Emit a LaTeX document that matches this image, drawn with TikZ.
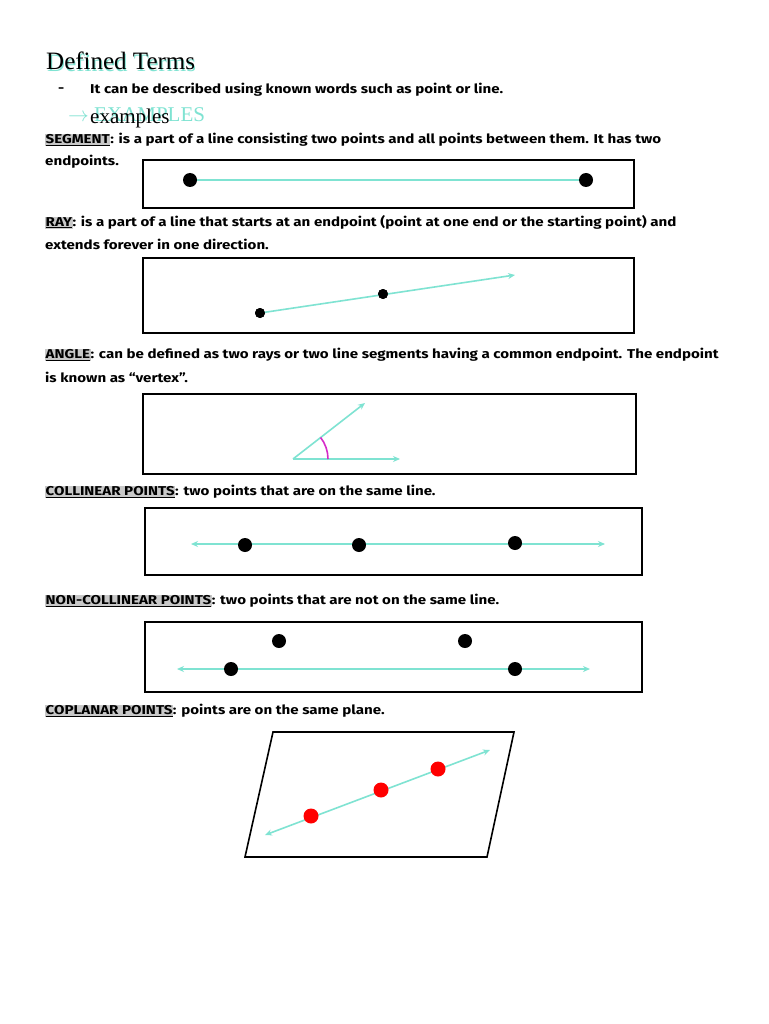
\documentclass[tikz,border=0pt]{standalone}
\usepackage{fontspec}
\setmainfont{Fira Sans}[FakeStretch=1.18]
\newfontfamily\titlefont{Liberation Serif}
\usetikzlibrary{arrows.meta}
\definecolor{aq}{HTML}{7FE3D2}
\definecolor{mag}{HTML}{D62AC8}
\definecolor{hl}{HTML}{C8C8C8}
\newcommand{\myterm}[1]{\setlength{\fboxsep}{0.5pt}\colorbox{hl}{\underline{#1}}}
\begin{document}
\begin{tikzpicture}[x=1pt,y=-1pt,
  txt/.style={anchor=west,inner sep=0pt,font=\fontsize{12.8}{14}\selectfont\bfseries},
  pbox/.style={draw=black,line width=1.2pt},
  aline/.style={draw=aq,line width=1.6pt},
  arr/.style={aline,-{Stealth[length=7pt,width=6pt]}},
  darr/.style={aline,{Stealth[length=7pt,width=6pt]}-{Stealth[length=7pt,width=6pt]}},
  dot/.style={circle,fill=black,inner sep=0pt,minimum size=14pt},
  sdot/.style={circle,fill=black,inner sep=0pt,minimum size=10pt},
  rdot/.style={circle,fill=red,inner sep=0pt,minimum size=15pt}]
\useasboundingbox (0,0) rectangle (768,1024);
\fill[white] (0,0) rectangle (768,1024);
% title
\node[anchor=west,inner sep=0pt,text=aq,font=\titlefont\fontsize{25}{28}\selectfont] (tsh) at (47,63) {Defined Terms};
\node[anchor=west,inner sep=0pt,font=\titlefont\fontsize{25}{28}\selectfont] (title) at (46,61) {Defined Terms};
\node[txt] (dash) at (58,90) {-};
\node[txt] (l1) at (90,90) {It can be described using known words such as point or line.};
\node[anchor=west,inner sep=0pt,text=aq,font=\titlefont\fontsize{21}{24}\selectfont] (exs) at (68,115) {$\rightarrow$ EXAMPLES};
\node[anchor=west,inner sep=0pt,font=\titlefont\fontsize{21}{24}\selectfont] (ex) at (90,118) {examples};
% segment
\node[txt] (t1) at (45,140) {\myterm{SEGMENT}: is a part of a line consisting two points and all points between them. It has two};
\node[txt] (t1b) at (45,162) {endpoints.};
\draw[pbox] (143,160) rectangle (634,208);
\node[dot] (s1) at (190,180) {};
\node[dot] (s2) at (586,180) {};
\draw[aline] (s1) -- (s2);
% ray
\node[txt] (t2) at (45,222) {\myterm{RAY}: is a part of a line that starts at an endpoint (point at one end or the starting point) and};
\node[txt] (t2b) at (45,244) {extends forever in one direction.};
\draw[pbox] (143,258) rectangle (634,333);
\node[sdot] (r1) at (260,313) {};
\node[sdot] (r2) at (383,294) {};
\coordinate (r3) at (515,275);
\draw[arr] (r1.center) -- (r3);
\node[sdot] at (260,313) {};
\node[sdot] at (383,294) {};
% angle
\node[txt] (t3) at (45,355) {\myterm{ANGLE}: can be defined as two rays or two line segments having a common endpoint. The endpoint};
\node[txt] (t3b) at (45,377) {is known as “vertex”.};
\draw[pbox] (143,394) rectangle (636,474);
\coordinate (v) at (293,459);
\coordinate (a1) at (365,403);
\coordinate (a2) at (400,459);
\draw[arr] (v) -- (a1);
\draw[arr] (v) -- (a2);
\draw[mag,line width=1.6pt] (v) ++(0:35) arc[start angle=0,end angle=38,radius=35,y radius=-35];
% collinear
\node[txt] (t4) at (45,492) {\myterm{COLLINEAR POINTS}: two points that are on the same line.};
\draw[pbox] (145,508) rectangle (642,575);
\coordinate (c0) at (191,544);
\coordinate (c4) at (605,544);
\draw[darr] (c0) -- (c4);
\node[dot] (c1) at (245,545) {};
\node[dot] (c2) at (359,545) {};
\node[dot] (c3) at (515,543) {};
% non-collinear
\node[txt] (t5) at (45,601) {\myterm{NON-COLLINEAR POINTS}: two points that are not on the same line.};
\draw[pbox] (145,622) rectangle (642,692);
\coordinate (n0) at (177,669);
\coordinate (n5) at (590,669);
\draw[darr] (n0) -- (n5);
\node[dot] (n1) at (231,669) {};
\node[dot] (n2) at (515,669) {};
\node[dot] (n3) at (279,641) {};
\node[dot] (n4) at (465,641) {};
% coplanar
\node[txt] (t6) at (45,711) {\myterm{COPLANAR POINTS}: points are on the same plane.};
\draw[pbox,line width=1.6pt] (273,732) -- (514,732) -- (487,857) -- (245,857) -- cycle;
\coordinate (p0) at (265,835);
\coordinate (p4) at (490,750);
\draw[darr] (p0) -- (p4);
\node[rdot] (p1) at (311,816) {};
\node[rdot] (p2) at (381,790) {};
\node[rdot] (p3) at (438,769) {};
\end{tikzpicture}
\end{document}
